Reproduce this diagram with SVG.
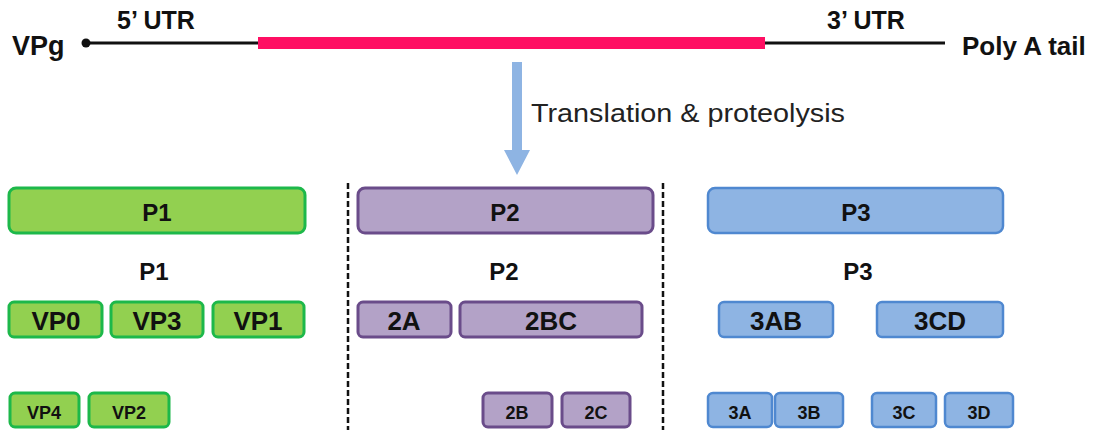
<svg xmlns="http://www.w3.org/2000/svg" width="1096" height="430" viewBox="0 0 1096 430">
  <style>
    text { font-family: "Liberation Sans", Arial, sans-serif; font-weight: bold; fill: #111; }
    .lbl { text-anchor: middle; }
    .big { font-size: 24px; }
    .mid { font-size: 26px; }
    .sm { font-size: 18px; }
    .green rect { fill: #92D050; stroke: #1DB84A; stroke-width: 3; }
    .purple rect { fill: #B3A2C7; stroke: #6A4C8A; stroke-width: 3; }
    .blue rect { fill: #8EB4E3; stroke: #4F88D0; stroke-width: 2.5; }
    .divider { stroke: #111; stroke-width: 2.5; stroke-dasharray: 6 3; fill: none; }
  </style>

  <!-- genome strand -->
  <g id="genome">
    <line x1="86" y1="43" x2="945" y2="43" stroke="#111" stroke-width="3"/>
    <circle cx="86" cy="43" r="4.5" fill="#111"/>
    <rect x="258" y="37" width="507" height="12" fill="#FF0F63"/>
    <text x="12" y="55" style="font-size:27px">VPg</text>
    <text class="lbl" x="156" y="29" style="font-size:25px">5’ UTR</text>
    <text class="lbl" x="866" y="29" style="font-size:25px">3’ UTR</text>
    <text x="962" y="55" style="font-size:26px">Poly A tail</text>
  </g>

  <!-- processing arrow and region dividers -->
  <g id="connectors">
    <polygon points="512,62 522,62 522,150 530,150 517,175 504,150 512,150" fill="#8EB4E3"/>
    <text x="531" y="122" textLength="314" lengthAdjust="spacingAndGlyphs" style="font-weight:normal;font-size:26px;fill:#222">Translation &amp; proteolysis</text>
    <line class="divider" x1="348" y1="183" x2="348" y2="430"/>
    <line class="divider" x1="663" y1="183" x2="663" y2="430"/>
  </g>

  <!-- P1 region -->
  <g id="P1" class="green">
    <rect x="9" y="188" width="296" height="45" rx="7"/>
    <text class="lbl big" x="157" y="221">P1</text>
  </g>
  <g id="P1-label"><text class="lbl big" x="154" y="280">P1</text></g>
  <g id="VP0" class="green">
    <rect x="9" y="302" width="93" height="35" rx="5"/>
    <text class="lbl mid" x="56" y="330">VP0</text>
  </g>
  <g id="VP3" class="green">
    <rect x="111" y="302" width="92" height="35" rx="5"/>
    <text class="lbl mid" x="157" y="330">VP3</text>
  </g>
  <g id="VP1" class="green">
    <rect x="213" y="302" width="91" height="35" rx="5"/>
    <text class="lbl mid" x="258" y="330">VP1</text>
  </g>
  <g id="VP4" class="green">
    <rect x="10" y="393" width="69" height="34" rx="5"/>
    <text class="lbl sm" x="44" y="419">VP4</text>
  </g>
  <g id="VP2" class="green">
    <rect x="89" y="393" width="80" height="34" rx="5"/>
    <text class="lbl sm" x="129" y="419">VP2</text>
  </g>

  <!-- P2 region -->
  <g id="P2" class="purple">
    <rect x="358" y="188" width="295" height="45" rx="7"/>
    <text class="lbl big" x="505" y="221">P2</text>
  </g>
  <g id="P2-label"><text class="lbl big" x="504" y="280">P2</text></g>
  <g id="2A" class="purple">
    <rect x="358" y="302" width="93" height="35" rx="5"/>
    <text class="lbl mid" x="404" y="330">2A</text>
  </g>
  <g id="2BC" class="purple">
    <rect x="460" y="302" width="182" height="35" rx="5"/>
    <text class="lbl mid" x="551" y="330">2BC</text>
  </g>
  <g id="2B" class="purple">
    <rect x="483" y="393" width="69" height="34" rx="5"/>
    <text class="lbl sm" x="517" y="419">2B</text>
  </g>
  <g id="2C" class="purple">
    <rect x="562" y="393" width="68" height="34" rx="5"/>
    <text class="lbl sm" x="596" y="419">2C</text>
  </g>

  <!-- P3 region -->
  <g id="P3" class="blue">
    <rect x="708" y="188" width="295" height="45" rx="7"/>
    <text class="lbl big" x="856" y="221">P3</text>
  </g>
  <g id="P3-label"><text class="lbl big" x="858" y="280">P3</text></g>
  <g id="3AB" class="blue">
    <rect x="719" y="302" width="114" height="35" rx="5"/>
    <text class="lbl mid" x="776" y="330">3AB</text>
  </g>
  <g id="3CD" class="blue">
    <rect x="877" y="302" width="126" height="35" rx="5"/>
    <text class="lbl mid" x="940" y="330">3CD</text>
  </g>
  <g id="3A" class="blue">
    <rect x="708" y="393" width="64" height="34" rx="5"/>
    <text class="lbl sm" x="740" y="419">3A</text>
  </g>
  <g id="3B" class="blue">
    <rect x="775" y="393" width="68" height="34" rx="5"/>
    <text class="lbl sm" x="809" y="419">3B</text>
  </g>
  <g id="3C" class="blue">
    <rect x="872" y="393" width="64" height="34" rx="5"/>
    <text class="lbl sm" x="904" y="419">3C</text>
  </g>
  <g id="3D" class="blue">
    <rect x="945" y="393" width="68" height="34" rx="5"/>
    <text class="lbl sm" x="979" y="419">3D</text>
  </g>
</svg>
